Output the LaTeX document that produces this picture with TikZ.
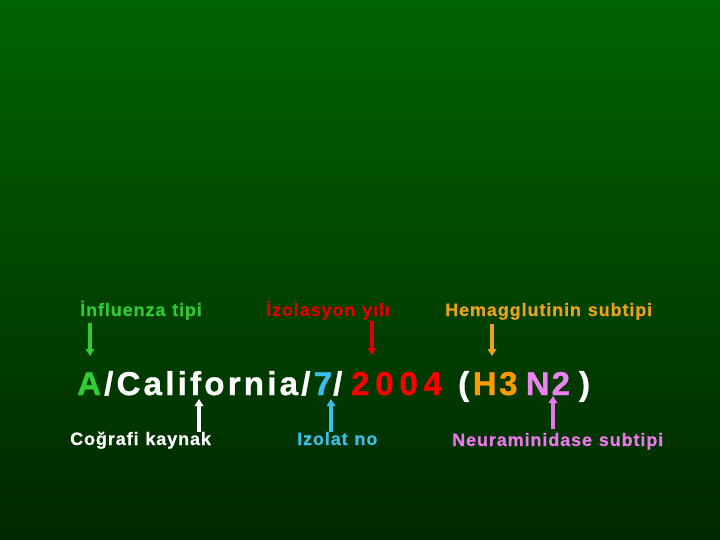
\documentclass[tikz,border=0pt]{standalone}
\usepackage{fontspec}
\setmainfont{Liberation Sans}
\usetikzlibrary{arrows.meta}
\newdimen\lsk
\newcommand\setlsk[1]{\lsk #1\relax}
\makeatletter
\newcommand\lsp[1]{\@tfor\my@ch:=#1\do{\my@ch\kern\lsk}}
\makeatother
\newcommand\lspk[2]{\setlsk{#1}\lsp{#2}}
\newcommand\lspc{\space\kern\lsk}
\definecolor{bgtop}{RGB}{0,100,0}
\definecolor{bgbot}{RGB}{0,40,0}
\definecolor{cgreen}{RGB}{50,205,50}
\definecolor{ccyan}{RGB}{60,190,240}
\definecolor{cred}{RGB}{255,0,0}
\definecolor{corange}{RGB}{255,153,0}
\definecolor{cpink}{RGB}{238,130,238}
\definecolor{lgreen}{RGB}{50,200,50}
\definecolor{lred}{RGB}{225,0,0}
\definecolor{lorange}{RGB}{235,160,30}
\definecolor{lcyan}{RGB}{60,190,230}
\definecolor{lpink}{RGB}{235,120,235}
\begin{document}
\begin{tikzpicture}[x=1pt,y=-1pt,
  lbl/.style={anchor=base west,inner sep=0pt,font={\bfseries\fontsize{18}{20}\selectfont\addfontfeature{FakeBold=0.6}\setlsk{0.9pt}}},
  big/.style={anchor=base west,inner sep=0pt,font={\bfseries\fontsize{33}{36}\selectfont\addfontfeature{FakeBold=1}\setlsk{0pt}}},
  arr/.style={line width=3.5pt,-{Triangle[length=7pt,width=8.5pt]}}]
\shade[top color=bgtop,bottom color=bgbot] (0,0) rectangle (720,540);
\useasboundingbox (0,0) rectangle (720,540);
% main line, in runs
\node[big,text=cgreen] (tA) at (77,395) {A};
\node[big,text=white] (tcal) at (104,395) {\lspk{3.25pt}{/California/}};
\node[big,text=ccyan] (t7) at (313.5,395) {7};
\node[big,text=white] (tsl) at (333,395) {/};
\node[big,text=cred] (tyr) at (351,395) {\lspk{5.8pt}{2004}};
\node[big,text=white] (tlp) at (458,395) {(};
\node[big,text=corange] (th3) at (472.6,395) {\lspk{2.6pt}{H3}};
\node[big,text=cpink] (tn2) at (525.6,395) {\lspk{2pt}{N2}};
\node[big,text=white] (trp) at (578.8,395) {)};
% top labels
\node[lbl,text=lgreen] (inf) at (80,316) {\lsp{İnfluenza}\lspc\lsp{tipi}};
\node[lbl,text=lred] (yil) at (266,316) {\lsp{İzolasyon}\lspc\lsp{yılı}};
\node[lbl,text=lorange] (hem) at (445,316) {\lsp{Hemagglutinin}\lspc\lsp{subtipi}};
% bottom labels
\node[lbl,text=white] (cog) at (70,445) {\lsp{Coğrafi}\lspc\lsp{kaynak}};
\node[lbl,text=lcyan] (izo) at (297,445) {\lsp{Izolat}\lspc\lsp{no}};
\node[lbl,text=lpink] (neu) at (452,446) {\lsp{Neuraminidase}\lspc\lsp{subtipi}};
% arrow coordinates
\coordinate (a1s) at (90,323); \coordinate (a1e) at (90,356);
\coordinate (a2s) at (372,321); \coordinate (a2e) at (372,355);
\coordinate (a3s) at (492,324); \coordinate (a3e) at (492,356);
\coordinate (b1s) at (199,432); \coordinate (b1e) at (199,399);
\coordinate (b2s) at (331,432); \coordinate (b2e) at (331,399);
\coordinate (b3s) at (553,429); \coordinate (b3e) at (553,396);
\draw[arr,draw=lgreen,fill=lgreen] (a1s) -- (a1e);
\draw[arr,draw=lred,fill=lred] (a2s) -- (a2e);
\draw[arr,draw=lorange,fill=lorange] (a3s) -- (a3e);
\draw[arr,draw=white,fill=white] (b1s) -- (b1e);
\draw[arr,draw=lcyan,fill=lcyan] (b2s) -- (b2e);
\draw[arr,draw=lpink,fill=lpink] (b3s) -- (b3e);
\end{tikzpicture}
\end{document}
